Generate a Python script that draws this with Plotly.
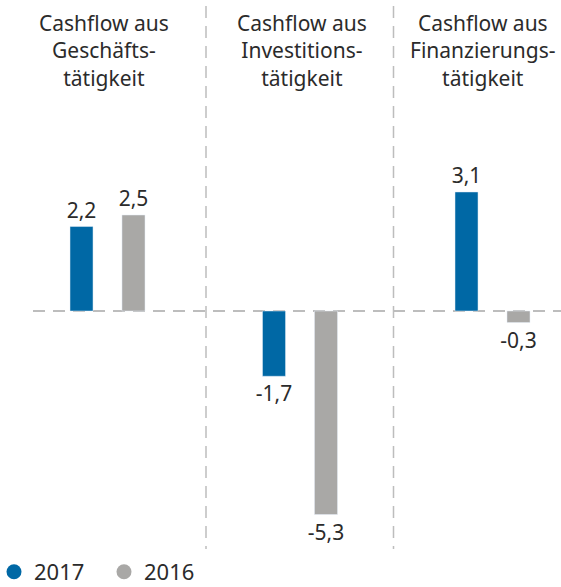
import plotly.graph_objects as go

categories = ["Cashflow aus<br>Geschäfts-<br>tätigkeit",
              "Cashflow aus<br>Investitions-<br>tätigkeit",
              "Cashflow aus<br>Finanzierungs-<br>tätigkeit"]
values_2017 = [2.2, -1.7, 3.1]
values_2016 = [2.5, -5.3, -0.3]
labels_2017 = ["2,2", "-1,7", "3,1"]
labels_2016 = ["2,5", "-5,3", "-0,3"]

BLUE = "#0068A5"
GREY = "#A9A8A6"
FONT = "Noto Sans"
TXT = "#2b2b2b"

W, H = 561, 587
xpos = [0, 1, 2]

fig = go.Figure()
fig.add_trace(go.Bar(x=xpos, y=values_2017, name="2017", marker_color=BLUE,
                     text=labels_2017, textposition="outside", cliponaxis=False,
                     constraintext="none",
                     textfont=dict(family=FONT, size=21, color=TXT), showlegend=False))
fig.add_trace(go.Bar(x=xpos, y=values_2016, name="2016", marker_color=GREY,
                     text=labels_2016, textposition="outside", cliponaxis=False,
                     constraintext="none",
                     textfont=dict(family=FONT, size=21, color=TXT), showlegend=False))
# legend entries with round markers
fig.add_trace(go.Scatter(x=[None], y=[None], mode="markers", name="2017",
                         marker=dict(symbol="circle", size=15, color=BLUE, line=dict(width=0))))
fig.add_trace(go.Scatter(x=[None], y=[None], mode="markers", name="2016",
                         marker=dict(symbol="circle", size=15, color=GREY, line=dict(width=0))))

# pixel geometry
px_per_unit = 38.4
zero_px = 311
group_px = 192.5
first_center_px = 107.5
y_top = zero_px / px_per_unit
y_bot = -(H - zero_px) / px_per_unit
x_lo = -first_center_px / group_px
x_hi = (W - first_center_px) / group_px

title_shift = [-3.5, 1.5, -9.5]
for i, c in enumerate(categories):
    fig.add_annotation(x=xpos[i], y=1 - 7 / H, xref="x", yref="paper",
                       xshift=title_shift[i],
                       text=c, showarrow=False, yanchor="top", xanchor="center",
                       font=dict(family=FONT, size=21, color=TXT), align="center")

sep_color = "#BDBDBD"
for xp in [206, 393.5]:
    fig.add_shape(type="line", xref="paper", yref="paper",
                  x0=xp / W, x1=xp / W, y0=1 - 6 / H, y1=1 - 549 / H,
                  line=dict(color=sep_color, width=1.5, dash="12px,8px"))
fig.add_shape(type="line", xref="paper", yref="y",
              x0=33 / W, x1=1, y0=0, y1=0,
              line=dict(color=sep_color, width=2, dash="12px,8px"), layer="below")

fig.update_layout(
    width=W, height=H,
    margin=dict(l=0, r=0, t=0, b=0, autoexpand=False),
    paper_bgcolor="white", plot_bgcolor="white",
    barmode="group", bargap=0.46, bargroupgap=0.557,
    xaxis=dict(range=[x_lo, x_hi], visible=False, fixedrange=True),
    yaxis=dict(range=[y_bot, y_top], visible=False, fixedrange=True),
    showlegend=True,
    legend=dict(orientation="h", x=-6 / W, xanchor="left", y=1 - 572 / H, yanchor="middle",
                font=dict(family=FONT, size=22, color=TXT),
                itemwidth=30, entrywidth=65, tracegroupgap=0, bgcolor="rgba(0,0,0,0)"),
)

fig.write_html("out.html", config={"displayModeBar": False},
               post_script="document.body.style.margin='0';document.body.style.overflow='hidden';")
